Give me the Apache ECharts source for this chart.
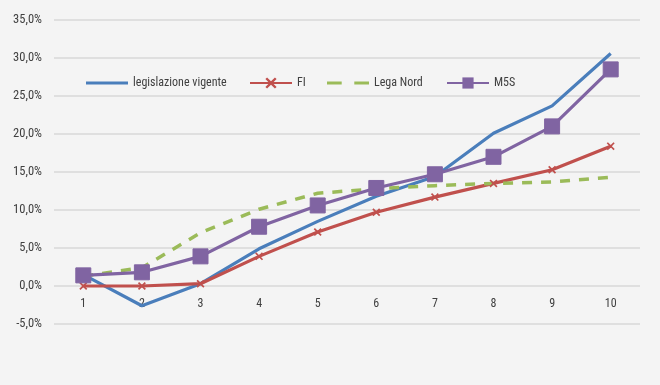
<!DOCTYPE html>
<html><head><meta charset="utf-8">
<script src="https://cdn.jsdelivr.net/npm/echarts@6/dist/echarts.min.js"></script>
<style>html,body{margin:0;padding:0;background:#f4f4f4}#c{width:660px;height:385px}</style>
</head><body><div id="c"></div>
<script>
const categories = ['1','2','3','4','5','6','7','8','9','10'];
const legislazioneVigente = [1.5, -2.6, 0.3, 4.9, 8.5, 11.8, 14.4, 20.1, 23.7, 30.6];
const FI = [0.0, 0.0, 0.3, 3.9, 7.1, 9.7, 11.7, 13.5, 15.3, 18.4];
const legaNord = [1.3, 2.4, 7.0, 10.1, 12.2, 12.8, 13.2, 13.5, 13.7, 14.3];
const M5S = [1.4, 1.8, 3.9, 7.8, 10.6, 12.9, 14.7, 17.0, 21.0, 28.5];
const seriesNames = ['legislazione vigente','FI','Lega Nord','M5S'];

const font = '"Roboto Condensed", "Liberation Sans Narrow", Roboto, sans-serif';
const xPath = 'path://M0,1.5L1.5,0L5,3.5L8.5,0L10,1.5L6.5,5L10,8.5L8.5,10L5,6.5L1.5,10L0,8.5L3.5,5Z';
const legendText = {fontFamily: font, fontSize: 12, color: '#404040'};
const legendLefts = [86, 249, 327, 446];
const legendIcons = [
  'path://M0,0H42V3H0Z',
  null,
  'path://M0,0H14V3H0Z M26,0H40V3H26Z',
  null
];
const chart = echarts.init(document.getElementById('c'));
chart.setOption({
  backgroundColor: '#f4f4f4',
  animation: false,
  grid: {left: 54, right: 20, top: 20, bottom: 61, containLabel: false},
  legend: seriesNames.map((n, i) => {
    const item = {name: n};
    if (legendIcons[i]) item.icon = legendIcons[i];
    return {left: legendLefts[i], top: 77, padding: 0, itemWidth: 42, itemHeight: 14,
      textStyle: legendText, data: [item]};
  }),
  xAxis: {
    type: 'category', data: categories, boundaryGap: true, position: 'bottom', offset: -38,
    axisLine: {show: false, onZero: false},
    axisTick: {show: false},
    axisLabel: {fontFamily: font, fontSize: 12, color: '#404040', margin: 12}
  },
  yAxis: {
    type: 'value', min: -5, max: 35, interval: 5,
    axisLine: {show: false}, axisTick: {show: false},
    splitLine: {lineStyle: {color: '#d9d9d9', width: 1.5}},
    axisLabel: {fontFamily: font, fontSize: 12.5, color: '#404040', margin: 12,
      formatter: v => v.toFixed(1).replace('.', ',') + '%'}
  },
  series: [
    {name: seriesNames[0], type: 'line', data: legislazioneVigente, symbol: 'none',
      lineStyle: {color: '#4a7ebb', width: 3.2}, itemStyle: {color: '#4a7ebb'}},
    {name: seriesNames[1], type: 'line', data: FI, symbol: xPath, symbolSize: 8,
      lineStyle: {color: '#c0504d', width: 3.2}, itemStyle: {color: '#c0504d'}},
    {name: seriesNames[2], type: 'line', data: legaNord, symbol: 'none',
      lineStyle: {color: '#9bbb59', width: 3.5, type: [10, 9]}, itemStyle: {color: '#9bbb59'}},
    {name: seriesNames[3], type: 'line', data: M5S, symbol: 'rect', symbolSize: 15,
      lineStyle: {color: '#8064a2', width: 3.2}, itemStyle: {color: '#8064a2', borderColor: '#8064a2'}}
  ]
});
</script></body></html>
